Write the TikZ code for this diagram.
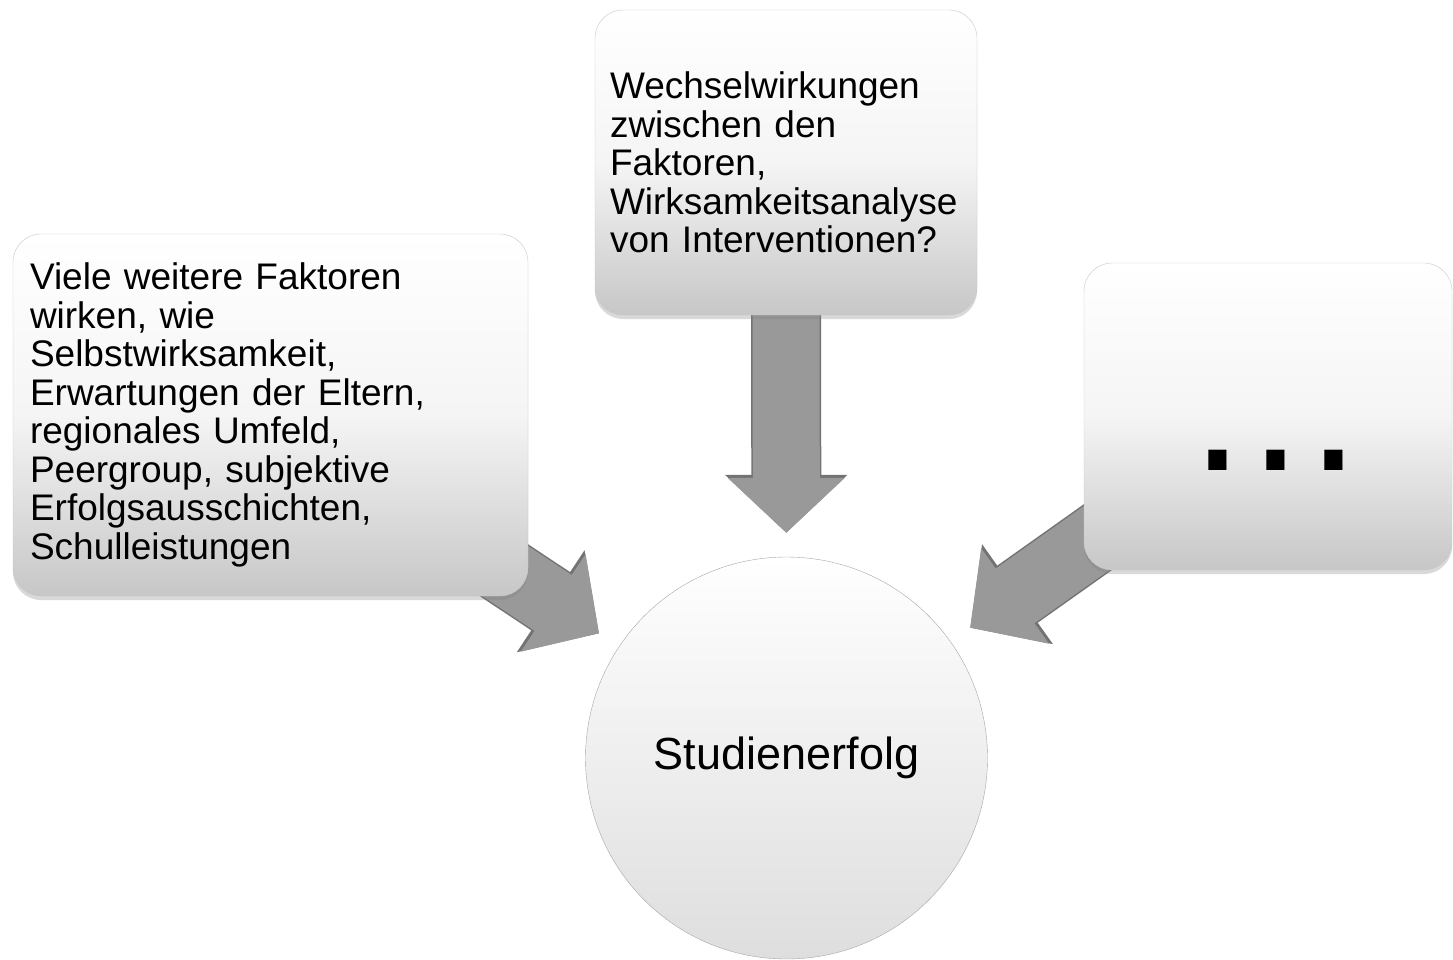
\documentclass[tikz,border=0pt]{standalone}
\usepackage{fontspec}
\setmainfont{Liberation Sans}
\usetikzlibrary{shapes, arrows.meta, shadows, backgrounds, positioning}
\tikzset{
    box/.style ={rectangle, rounded corners=28pt, draw=black!22, thin,
        top color=white, bottom color=black!22, middle color=black!4,
        drop shadow={shadow xshift=0pt, shadow yshift=-4pt, opacity=0.3},
        font=\fontsize{37}{38.5}\selectfont, align=left},
    goal/.style = {circle, draw=black!35, top color=white, bottom color=black!13,
        minimum size=402pt, font=\fontsize{45}{54}\selectfont},
    fat/.style = {line width=67pt, draw=black!40, shorten >=24pt,
        -{Triangle[width=114pt, length=55pt]},
        preaction={draw=black!55, line width=70pt, -{Triangle[width=119pt, length=58pt]}}}
}
\begin{document}
\begin{tikzpicture}[x=1pt, y=-1pt]
  \useasboundingbox (0,0) rectangle (1453,960);

  \node[box, text width=481pt, inner xsep=17pt, minimum height=362pt] (b1) at (270.5,415)
    {Viele weitere Faktoren\\ wirken, wie\\ Selbstwirksamkeit,\\ Erwartungen der Eltern,\\
     regionales Umfeld,\\ Peergroup, subjektive\\ Erfolgsausschichten,\\ Schulleistungen};
  \node[box, text width=352pt, inner xsep=15pt, minimum height=305pt] (b2) at (786,162.5)
    {Wechselwirkungen\\ zwischen den\\ Faktoren,\\ Wirksamkeitsanalyse\\ von Interventionen?};
  \node[box, align=center, minimum width=368pt, minimum height=307pt, text height=107pt,
        text depth=0pt, font=\fontsize{190}{190}\selectfont] (b3) at (1268,416.5)
    {\hspace*{16pt}.\hspace{5.2pt}.\hspace{5.2pt}.};
  \node[goal] (s) at (786.5,758) {Studienerfolg};

  \begin{scope}[on background layer]
    \draw[fat] (b1.center) -- (s);
    \draw[fat] (b2.center) -- (s);
    \draw[fat] (b3.center) -- (s);
  \end{scope}
\end{tikzpicture}
\end{document}
